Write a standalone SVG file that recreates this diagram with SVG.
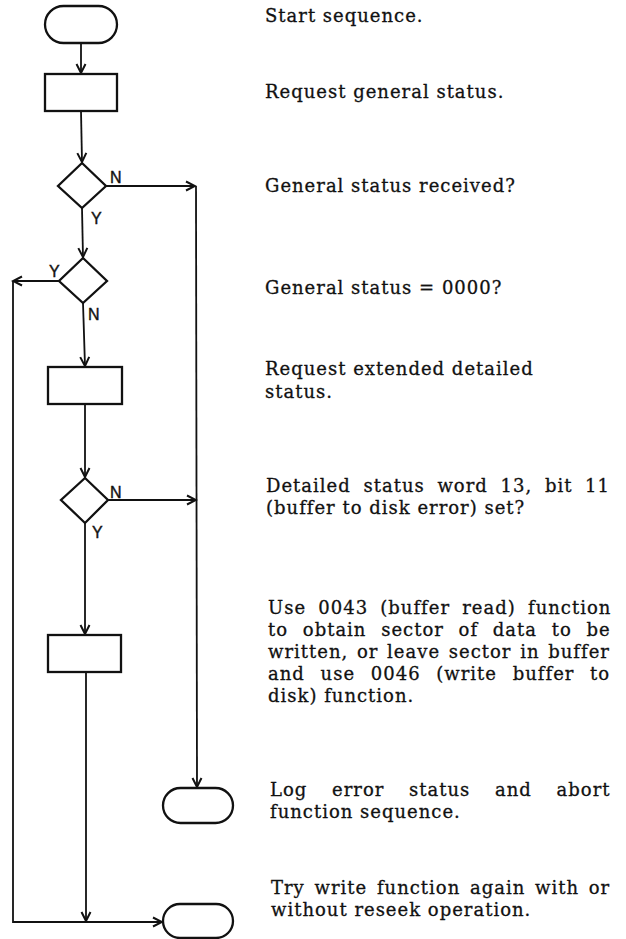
<svg xmlns="http://www.w3.org/2000/svg" width="626" height="939" viewBox="0 0 626 939">
<style>
.shape{fill:none;stroke:#111;stroke-width:2.3}
.conn{fill:none;stroke:#111;stroke-width:1.8}
.lbl{font-family:"Liberation Sans",Arial,sans-serif;font-size:16px;fill:#111;stroke:#111;stroke-width:0.4}
.txt{font-family:"DejaVu Serif","Liberation Serif",serif;font-size:18px;letter-spacing:1px;fill:#111;stroke:#111;stroke-width:0.3}
</style>
<defs>
<marker id="arr" markerWidth="12" markerHeight="12" refX="10" refY="6" orient="auto" markerUnits="userSpaceOnUse">
<path d="M1,1.5 L10,6 L1,10.5" fill="none" stroke="#111" stroke-width="2"/>
</marker>
</defs>
<rect width="626" height="939" fill="#fff"/>
<g id="connectors">
<line class="conn" x1="81" y1="43" x2="81" y2="73" marker-end="url(#arr)"/>
<line class="conn" x1="81" y1="111" x2="82" y2="162" marker-end="url(#arr)"/>
<line class="conn" x1="82" y1="208" x2="83" y2="257" marker-end="url(#arr)"/>
<line class="conn" x1="106" y1="186" x2="195" y2="186" marker-end="url(#arr)"/>
<line class="conn" x1="196" y1="186" x2="197" y2="787" marker-end="url(#arr)"/>
<line class="conn" x1="59" y1="281" x2="13" y2="281" marker-end="url(#arr)"/>
<polyline class="conn" points="13,281 13,922 162,922" marker-end="url(#arr)"/>
<line class="conn" x1="83" y1="303" x2="85" y2="366" marker-end="url(#arr)"/>
<line class="conn" x1="85" y1="404" x2="85" y2="477" marker-end="url(#arr)"/>
<line class="conn" x1="108" y1="500" x2="196" y2="500" marker-end="url(#arr)"/>
<line class="conn" x1="85" y1="523" x2="85" y2="634" marker-end="url(#arr)"/>
<line class="conn" x1="86" y1="672" x2="86" y2="921" marker-end="url(#arr)"/>
<text class="lbl" x="110" y="183">N</text>
<text class="lbl" x="91" y="224">Y</text>
<text class="lbl" x="49" y="277">Y</text>
<text class="lbl" x="88" y="320">N</text>
<text class="lbl" x="110" y="498">N</text>
<text class="lbl" x="92" y="538">Y</text>
</g>
<g id="start">
<rect class="shape" x="45" y="6" width="72" height="37" rx="18.5"/>
<text class="txt" x="265" y="22">Start sequence.</text>
</g>
<g id="req-general">
<rect class="shape" x="45" y="74" width="72" height="37"/>
<text class="txt" x="265" y="98">Request general status.</text>
</g>
<g id="dec-received">
<polygon class="shape" points="82,163 106,186 82,208 58,186"/>
<text class="txt" x="265" y="192">General status received?</text>
</g>
<g id="dec-zero">
<polygon class="shape" points="83,258 107,281 83,303 59,281"/>
<text class="txt" x="265" y="294">General status = 0000?</text>
</g>
<g id="req-extended">
<rect class="shape" x="48" y="367" width="74" height="37"/>
<text class="txt" x="265" y="375">Request extended detailed</text>
<text class="txt" x="265" y="398">status.</text>
</g>
<g id="dec-bit11">
<polygon class="shape" points="85,478 108,500 85,523 61,500"/>
<text class="txt" x="266" y="492" word-spacing="6">Detailed status word 13, bit 11</text>
<text class="txt" x="266" y="514">(buffer to disk error) set?</text>
</g>
<g id="buffer-read">
<rect class="shape" x="48" y="635" width="73" height="37"/>
<text class="txt" x="268" y="614" word-spacing="5.5">Use 0043 (buffer read) function</text>
<text class="txt" x="268" y="636" word-spacing="8">to obtain sector of data to be</text>
<text class="txt" x="268" y="658" word-spacing="2">written, or leave sector in buffer</text>
<text class="txt" x="268" y="680" word-spacing="9">and use 0046 (write buffer to</text>
<text class="txt" x="268" y="702">disk) function.</text>
</g>
<g id="abort">
<rect class="shape" x="163" y="788" width="70" height="35" rx="17.5"/>
<text class="txt" x="270" y="796" word-spacing="18">Log error status and abort</text>
<text class="txt" x="270" y="818">function sequence.</text>
</g>
<g id="retry">
<rect class="shape" x="163" y="904" width="70" height="34" rx="17"/>
<text class="txt" x="271" y="894" word-spacing="3">Try write function again with or</text>
<text class="txt" x="271" y="916">without reseek operation.</text>
</g>
</svg>
